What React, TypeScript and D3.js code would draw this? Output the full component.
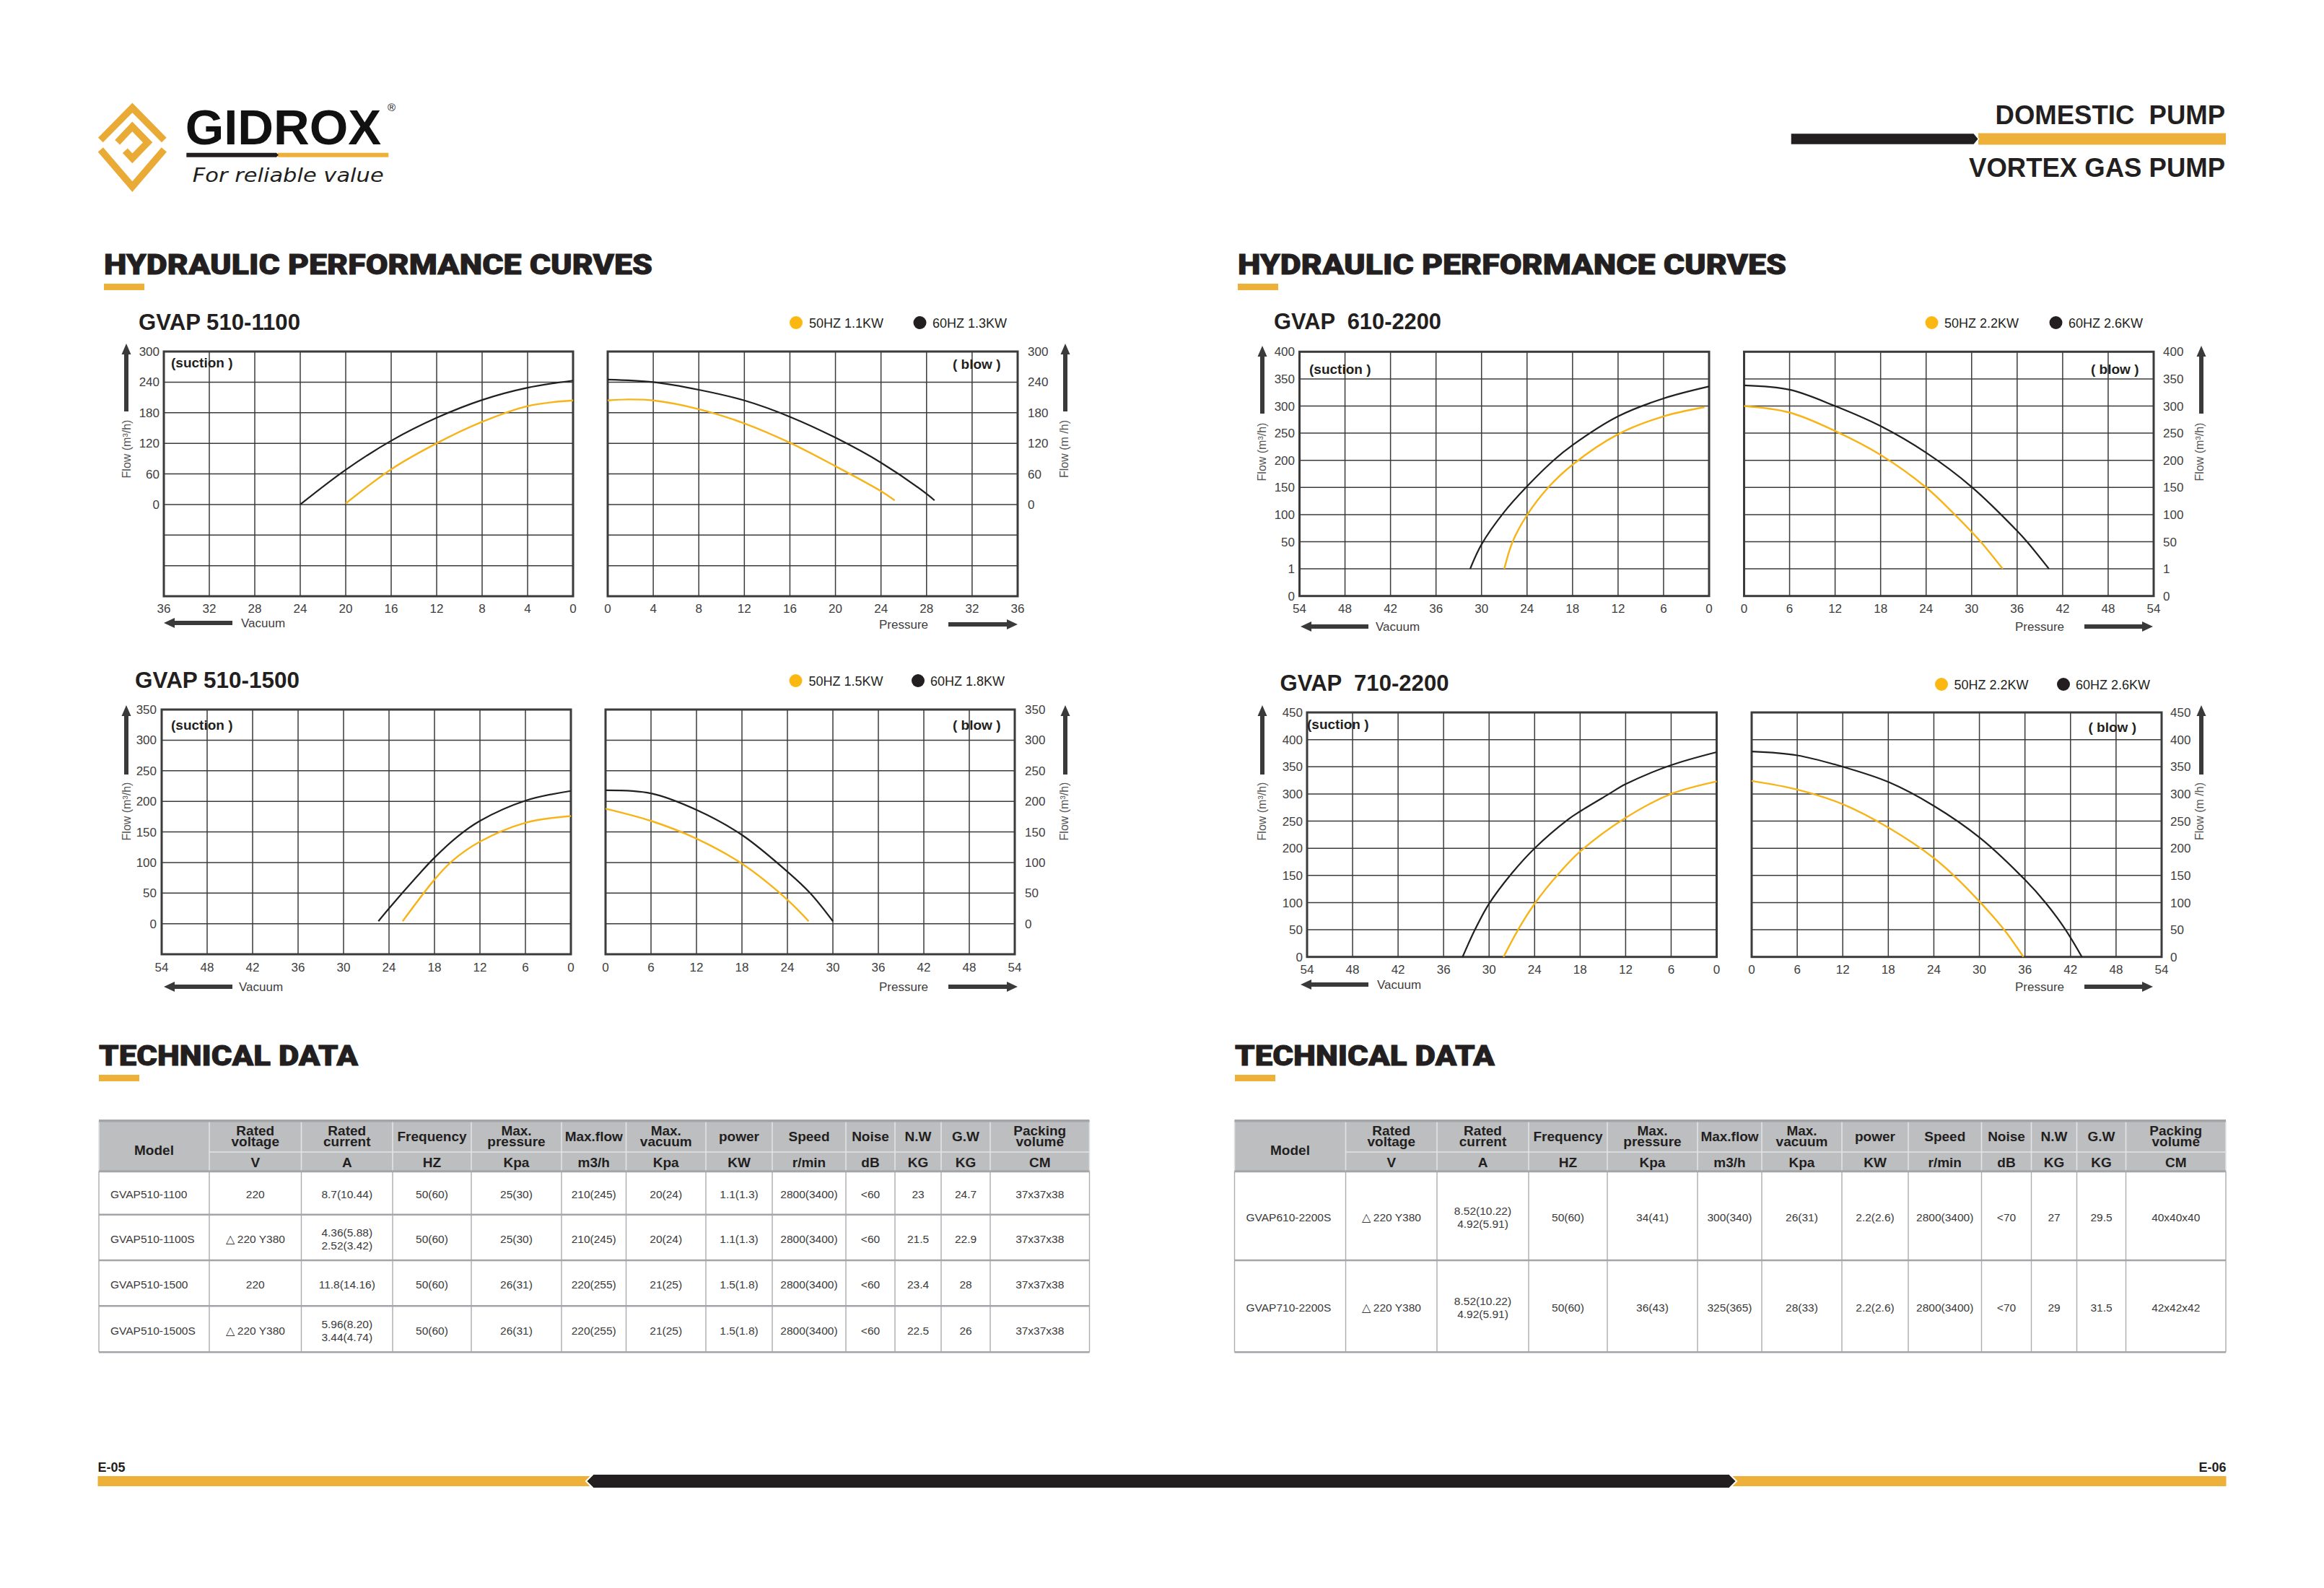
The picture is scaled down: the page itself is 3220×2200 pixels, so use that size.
import React from "react";
import * as d3 from "d3";

// ---------------- DATA ----------------
type Pt = [number, number];

const xTicks36 = [0, 4, 8, 12, 16, 20, 24, 28, 32, 36];
const xTicks54 = [0, 6, 12, 18, 24, 30, 36, 42, 48, 54];

const yVals1100 = [300, 240, 180, 120, 60, 0];
const yText1100 = ["300", "240", "180", "120", "60", "0"];
const yVals1500 = [350, 300, 250, 200, 150, 100, 50, 0];
const yText1500 = ["350", "300", "250", "200", "150", "100", "50", "0"];
const yVals610 = [400, 350, 300, 250, 200, 150, 100, 50, 0, -50];
const yText610 = ["400", "350", "300", "250", "200", "150", "100", "50", "1", "0"];
const yVals710 = [450, 400, 350, 300, 250, 200, 150, 100, 50, 0];
const yText710 = ["450", "400", "350", "300", "250", "200", "150", "100", "50", "0"];

// [vacuum or pressure (kPa), flow (m3/h)]
const s1100_50_suction: Pt[] = [[20, 2], [16, 69], [12, 120], [8, 162], [4, 193], [0, 204]];
const s1100_60_suction: Pt[] = [[24, 0], [20, 68], [16, 125], [12, 170], [8, 205], [4, 229], [0, 243]];
const s1100_50_blow: Pt[] = [[0, 204], [1.8, 206], [4, 204], [8, 187], [12, 159], [16, 121], [20, 75], [24, 26], [25.2, 8]];
const s1100_60_blow: Pt[] = [[0, 245], [4, 240], [8, 225], [12, 204], [16, 172], [20, 131], [24, 82], [28, 21], [28.7, 8]];

const s1500_50_suction: Pt[] = [[22.2, 4], [18, 72], [15.7, 102], [12, 134], [6, 165], [0, 176]];
const s1500_60_suction: Pt[] = [[25.4, 4], [24, 25], [20.4, 76], [18, 108], [15, 142], [12, 168], [6, 201], [0, 217]];
const s1500_50_blow: Pt[] = [[0, 188], [6, 168], [12, 139], [18, 98], [24, 39], [26.8, 4]];
const s1500_60_blow: Pt[] = [[0, 218], [6, 213], [12, 186], [18, 145], [24, 85], [27, 50], [30, 4]];

const s610_50_suction: Pt[] = [[27, 0], [25.9, 50], [24, 99], [21.2, 150], [18, 192], [12, 248], [6, 281], [0.6, 298]];
const s610_60_suction: Pt[] = [[31.5, 0], [30, 45], [27, 105], [24, 152], [20.5, 200], [18, 228], [12, 281], [6, 314], [0, 336]];
const s610_50_blow: Pt[] = [[0, 300], [6, 288], [12, 254], [18, 210], [24, 150], [27.7, 101], [30, 68], [31.2, 50], [34.1, 0]];
const s610_60_blow: Pt[] = [[0, 338], [6, 330], [12, 300], [18, 263], [24, 214], [30, 151], [36, 70], [37.3, 50], [40.2, 0]];

const s710_50_suction: Pt[] = [[28.1, 0], [26.1, 52], [24, 98], [20.9, 152], [18, 194], [12, 256], [6, 300], [0, 323]];
const s710_60_suction: Pt[] = [[33.5, 0], [31.8, 52], [30, 98], [27, 154], [24, 200], [19.6, 253], [18, 268], [14.3, 299], [12, 318], [6, 353], [0, 377]];
const s710_50_blow: Pt[] = [[0, 324], [6, 308], [12, 281], [18, 238], [24, 182], [26.7, 149], [30, 102], [33.2, 51], [35.8, 0]];
const s710_60_blow: Pt[] = [[0, 378], [6, 371], [12, 350], [18, 322], [24, 278], [30, 220], [36, 142], [38.7, 100], [41.3, 51], [43.5, 0]];

const legend1100 = ["50HZ  1.1KW", "60HZ  1.3KW"];
const legend1500 = ["50HZ  1.5KW", "60HZ 1.8KW"];
const legend610 = ["50HZ  2.2KW", "60HZ  2.6KW"];
const legend710 = ["50HZ  2.2KW", "60HZ  2.6KW"];

const headerTop = ["Model", "Rated\nvoltage", "Rated\ncurrent", "Frequency", "Max.\npressure", "Max.flow", "Max.\nvacuum", "power", "Speed", "Noise", "N.W", "G.W", "Packing\nvolume"];
const headerUnits = ["", "V", "A", "HZ", "Kpa", "m3/h", "Kpa", "KW", "r/min", "dB", "KG", "KG", "CM"];

const rowsLeft = [
  ["GVAP510-1100", "220", "8.7(10.44)", "50(60)", "25(30)", "210(245)", "20(24)", "1.1(1.3)", "2800(3400)", "<60", "23", "24.7", "37x37x38"],
  ["GVAP510-1100S", "△ 220 Y380", "4.36(5.88)\n2.52(3.42)", "50(60)", "25(30)", "210(245)", "20(24)", "1.1(1.3)", "2800(3400)", "<60", "21.5", "22.9", "37x37x38"],
  ["GVAP510-1500", "220", "11.8(14.16)", "50(60)", "26(31)", "220(255)", "21(25)", "1.5(1.8)", "2800(3400)", "<60", "23.4", "28", "37x37x38"],
  ["GVAP510-1500S", "△ 220 Y380", "5.96(8.20)\n3.44(4.74)", "50(60)", "26(31)", "220(255)", "21(25)", "1.5(1.8)", "2800(3400)", "<60", "22.5", "26", "37x37x38"],
];
const rowsRight = [
  ["GVAP610-2200S", "△ 220 Y380", "8.52(10.22)\n4.92(5.91)", "50(60)", "34(41)", "300(340)", "26(31)", "2.2(2.6)", "2800(3400)", "<70", "27", "29.5", "40x40x40"],
  ["GVAP710-2200S", "△ 220 Y380", "8.52(10.22)\n4.92(5.91)", "50(60)", "36(43)", "325(365)", "28(33)", "2.2(2.6)", "2800(3400)", "<70", "29", "31.5", "42x42x42"],
];

// ---------------- STYLE / LAYOUT ----------------
const FONT = "'Liberation Sans', Arial, Helvetica, sans-serif";
const HEAVY = "Roboto, 'Liberation Sans', Arial, sans-serif";
const ORANGE = "#f7b418";
const ORANGE_BAR = "#edb13a";
const DARK = "#231f20";
const GRID = "#3b3b3b";
const TXT = "#404040";

type PanelCfg = {
  side: "suction" | "blow";
  L: number; R: number; T: number; B: number;
  xTicks: number[];
  yMin: number; yMax: number; yStep: number;
  yVals: number[]; yText: string[];
  s50: Pt[]; s60: Pt[];
  title?: string; titleX?: number; titleY?: number; titleW?: number;
  legend?: string[]; legY?: number; legO?: number; legOT?: number; legB?: number; legBT?: number;
  noteX: number; noteY: number;
  yLabX: number;
  flowX: number; flowY: number; flowText: string;
  arrowX: number; arrowTop: number; arrowBot: number;
  xLabY: number;
  axName: string; axNameX: number; axNameY: number; axA: number; axB: number;
};

const panels: PanelCfg[] = [
  {
    side: "suction", L: 227, R: 794, T: 487, B: 826, xTicks: xTicks36,
    yMin: -180, yMax: 300, yStep: 60, yVals: yVals1100, yText: yText1100,
    s50: s1100_50_suction, s60: s1100_60_suction,
    title: "GVAP 510-1100", titleX: 192, titleY: 457, titleW: 224,
    noteX: 237, noteY: 509, yLabX: 221,
    flowX: 175, flowY: 622, flowText: "Flow (m³/h)", arrowX: 175, arrowTop: 476, arrowBot: 570,
    xLabY: 849, axName: "Vacuum", axNameX: 334, axNameY: 869, axA: 227, axB: 322,
  },
  {
    side: "blow", L: 842, R: 1410, T: 487, B: 826, xTicks: xTicks36,
    yMin: -180, yMax: 300, yStep: 60, yVals: yVals1100, yText: yText1100,
    s50: s1100_50_blow, s60: s1100_60_blow,
    legend: legend1100, legY: 447, legO: 1103, legOT: 1121, legB: 1274.5, legBT: 1292,
    noteX: 1320, noteY: 511, yLabX: 1424,
    flowX: 1474, flowY: 622, flowText: "Flow (m /h)", arrowX: 1476, arrowTop: 476, arrowBot: 570,
    xLabY: 849, axName: "Pressure", axNameX: 1218, axNameY: 871, axA: 1314, axB: 1410,
  },
  {
    side: "suction", L: 224, R: 791, T: 983, B: 1322, xTicks: xTicks54,
    yMin: -50, yMax: 350, yStep: 50, yVals: yVals1500, yText: yText1500,
    s50: s1500_50_suction, s60: s1500_60_suction,
    title: "GVAP 510-1500", titleX: 187, titleY: 953, titleW: 228,
    noteX: 237, noteY: 1011, yLabX: 217,
    flowX: 175, flowY: 1124, flowText: "Flow (m³/h)", arrowX: 175, arrowTop: 977, arrowBot: 1073,
    xLabY: 1346, axName: "Vacuum", axNameX: 331, axNameY: 1373, axA: 227, axB: 322,
  },
  {
    side: "blow", L: 839, R: 1406, T: 983, B: 1322, xTicks: xTicks54,
    yMin: -50, yMax: 350, yStep: 50, yVals: yVals1500, yText: yText1500,
    s50: s1500_50_blow, s60: s1500_60_blow,
    legend: legend1500, legY: 943, legO: 1102.5, legOT: 1120.5, legB: 1272, legBT: 1289,
    noteX: 1320, noteY: 1011, yLabX: 1420,
    flowX: 1474, flowY: 1124, flowText: "Flow (m³/h)", arrowX: 1476, arrowTop: 977, arrowBot: 1073,
    xLabY: 1346, axName: "Pressure", axNameX: 1218, axNameY: 1373, axA: 1314, axB: 1410,
  },
  {
    side: "suction", L: 1800.5, R: 2368, T: 487.3, B: 825.7, xTicks: xTicks54,
    yMin: -50, yMax: 400, yStep: 50, yVals: yVals610, yText: yText610,
    s50: s610_50_suction, s60: s610_60_suction,
    title: "GVAP  610-2200", titleX: 1765, titleY: 456, titleW: 232,
    noteX: 1814, noteY: 518, yLabX: 1794,
    flowX: 1748, flowY: 626, flowText: "Flow (m³/h)", arrowX: 1749, arrowTop: 479, arrowBot: 573,
    xLabY: 849, axName: "Vacuum", axNameX: 1906, axNameY: 874, axA: 1802, axB: 1896,
  },
  {
    side: "blow", L: 2416.5, R: 2984, T: 487.3, B: 825.7, xTicks: xTicks54,
    yMin: -50, yMax: 400, yStep: 50, yVals: yVals610, yText: yText610,
    s50: s610_50_blow, s60: s610_60_blow,
    legend: legend610, legY: 447, legO: 2676.5, legOT: 2694, legB: 2848.5, legBT: 2866,
    noteX: 2897, noteY: 518, yLabX: 2997,
    flowX: 3047, flowY: 626, flowText: "Flow (m³/h)", arrowX: 3050, arrowTop: 479, arrowBot: 573,
    xLabY: 849, axName: "Pressure", axNameX: 2792, axNameY: 874, axA: 2888, axB: 2983,
  },
  {
    side: "suction", L: 1811, R: 2378.5, T: 987, B: 1325.7, xTicks: xTicks54,
    yMin: 0, yMax: 450, yStep: 50, yVals: yVals710, yText: yText710,
    s50: s710_50_suction, s60: s710_60_suction,
    title: "GVAP  710-2200", titleX: 1773.5, titleY: 957, titleW: 234,
    noteX: 1811, noteY: 1010, yLabX: 1805,
    flowX: 1748, flowY: 1124, flowText: "Flow (m³/h)", arrowX: 1749, arrowTop: 977, arrowBot: 1073,
    xLabY: 1349, axName: "Vacuum", axNameX: 1908, axNameY: 1370, axA: 1802, axB: 1896,
  },
  {
    side: "blow", L: 2427, R: 2995, T: 987, B: 1325.7, xTicks: xTicks54,
    yMin: 0, yMax: 450, yStep: 50, yVals: yVals710, yText: yText710,
    s50: s710_50_blow, s60: s710_60_blow,
    legend: legend710, legY: 948, legO: 2690, legOT: 2707.5, legB: 2859, legBT: 2876,
    noteX: 2893.5, noteY: 1014, yLabX: 3007,
    flowX: 3047, flowY: 1124, flowText: "Flow (m /h)", arrowX: 3050, arrowTop: 977, arrowBot: 1073,
    xLabY: 1349, axName: "Pressure", axNameX: 2792, axNameY: 1373, axA: 2888, axB: 2983,
  },
];

const leftCols = [137, 290, 417.5, 544, 653, 778, 867.5, 978, 1070, 1172, 1240, 1304, 1372, 1509.5];
const rightCols = [1710.5, 1864.5, 1991, 2118, 2227, 2352, 2441, 2552, 2644, 2745.5, 2814.5, 2877.5, 2945.5, 3084];
const leftRowLines = [1622.7, 1682.7, 1746, 1809.3, 1873.3];
const rightRowLines = [1622.7, 1746, 1873.3];

// ---------------- HELPERS ----------------
function hArrow(tip: number, tail: number, yc: number) {
  const dir = tail > tip ? 1 : -1;
  const hl = 15 * dir;
  const pts = [
    [tip, yc], [tip + hl, yc - 7], [tip + hl, yc - 3], [tail, yc - 3],
    [tail, yc + 3], [tip + hl, yc + 3], [tip + hl, yc + 7],
  ];
  return pts.map((p) => p.join(",")).join(" ");
}
function vArrow(xc: number, top: number, bot: number) {
  const pts = [
    [xc, top], [xc + 6.5, top + 15], [xc + 3, top + 15], [xc + 3, bot],
    [xc - 3, bot], [xc - 3, top + 15], [xc - 6.5, top + 15],
  ];
  return pts.map((p) => p.join(",")).join(" ");
}

function Panel({ c }: { c: PanelCfg }) {
  const xMax = c.xTicks[c.xTicks.length - 1];
  const x = d3.scaleLinear().domain(c.side === "suction" ? [xMax, 0] : [0, xMax]).range([c.L, c.R]);
  const y = d3.scaleLinear().domain([c.yMin, c.yMax]).range([c.B, c.T]);
  const yGrid = d3.range(c.yMin, c.yMax + 0.001, c.yStep);
  const line = d3
    .line<Pt>()
    .x((d) => x(d[0]))
    .y((d) => y(d[1]))
    .curve(d3.curveCatmullRom.alpha(0.5));
  const suction = c.side === "suction";
  return (
    <g>
      {c.title && (
        <text x={c.titleX} y={c.titleY} fontFamily={FONT} fontWeight={700} fontSize={31} fill={DARK}
          textLength={c.titleW} lengthAdjust="spacingAndGlyphs" style={{ whiteSpace: "pre" }}>
          {c.title}
        </text>
      )}
      {c.legend && (
        <g fontFamily={FONT} fontSize={18} fill={DARK} style={{ whiteSpace: "pre" }}>
          <circle cx={c.legO} cy={c.legY} r={9} fill="#fcb812" />
          <text x={c.legOT} y={c.legY + 6.5}>{c.legend[0]}</text>
          <circle cx={c.legB} cy={c.legY} r={9} fill={DARK} />
          <text x={c.legBT} y={c.legY + 6.5}>{c.legend[1]}</text>
        </g>
      )}
      {yGrid.map((v) => (
        <line key={"y" + v} x1={c.L} x2={c.R} y1={y(v)} y2={y(v)} stroke={GRID} strokeWidth={1.5} />
      ))}
      {c.xTicks.map((v) => (
        <line key={"x" + v} x1={x(v)} x2={x(v)} y1={c.T} y2={c.B} stroke={GRID} strokeWidth={1.5} />
      ))}
      <rect x={c.L} y={c.T} width={c.R - c.L} height={c.B - c.T} fill="none" stroke={GRID} strokeWidth={3} />
      <path d={line(c.s60) || ""} fill="none" stroke={DARK} strokeWidth={2.2} />
      <path d={line(c.s50) || ""} fill="none" stroke={ORANGE} strokeWidth={2.4} />
      <text x={c.noteX} y={c.noteY} fontFamily={FONT} fontWeight={700} fontSize={19} fill={DARK} style={{ whiteSpace: "pre" }}>
        {suction ? "(suction )" : "( blow )"}
      </text>
      {c.yVals.map((v, i) => (
        <text key={"yl" + v} x={c.yLabX} y={y(v)} dy="0.36em" textAnchor={suction ? "end" : "start"}
          fontFamily={FONT} fontSize={17} fill={TXT}>
          {c.yText[i]}
        </text>
      ))}
      {c.xTicks.map((v) => (
        <text key={"xl" + v} x={x(v)} y={c.xLabY} textAnchor="middle" fontFamily={FONT} fontSize={17} fill={TXT}>
          {v}
        </text>
      ))}
      <text transform={`translate(${c.flowX},${c.flowY}) rotate(-90)`} textAnchor="middle" dy="0.36em"
        fontFamily={FONT} fontSize={16} fill="#555" style={{ whiteSpace: "pre" }}>
        {c.flowText}
      </text>
      <polygon points={vArrow(c.arrowX, c.arrowTop, c.arrowBot)} fill="#3a3a3a" />
      <text x={c.axNameX} y={c.axNameY} fontFamily={FONT} fontSize={17} fill={TXT}>{c.axName}</text>
      <polygon points={suction ? hArrow(c.axA, c.axB, c.axNameY - 6) : hArrow(c.axB, c.axA, c.axNameY - 6)} fill="#3a3a3a" />
    </g>
  );
}

function DataTable({ cols, rowLines, rows }: { cols: number[]; rowLines: number[]; rows: string[][] }) {
  const top = 1552.7, mid = 1596, hBot = 1622.7;
  const L = cols[0], R = cols[cols.length - 1];
  const centers = cols.slice(0, -1).map((c, i) => (c + cols[i + 1]) / 2);
  return (
    <g fontFamily={FONT}>
      <rect x={L} y={top} width={R - L} height={hBot - top} fill="#bcbec0" />
      {cols.map((cx, i) => (
        <line key={"hv" + i} x1={cx} x2={cx} y1={top} y2={hBot} stroke="#e2e3e4" strokeWidth={1.6} />
      ))}
      <line x1={cols[1]} x2={R} y1={mid} y2={mid} stroke="#e2e3e4" strokeWidth={1.6} />
      <line x1={L} x2={R} y1={top} y2={top} stroke="#a3a5a8" strokeWidth={3.5} />
      <line x1={L} x2={R} y1={hBot} y2={hBot} stroke="#a3a5a8" strokeWidth={3} />
      {cols.map((cx, i) => (
        <line key={"bv" + i} x1={cx} x2={cx} y1={hBot} y2={rowLines[rowLines.length - 1]} stroke="#a9abae" strokeWidth={1.4} />
      ))}
      {rowLines.slice(1).map((ry, i) => (
        <line key={"rl" + i} x1={L} x2={R} y1={ry} y2={ry} stroke="#a3a5a8" strokeWidth={2.6} />
      ))}
      {headerTop.map((h, i) => {
        const parts = h.split("\n");
        if (i === 0)
          return (
            <text key={"h" + i} x={centers[0]} y={1600} textAnchor="middle" fontWeight={700} fontSize={19} fill={DARK}>{h}</text>
          );
        if (parts.length === 2)
          return (
            <g key={"h" + i}>
              <text x={centers[i]} y={1573} textAnchor="middle" fontWeight={700} fontSize={19} fill={DARK}>{parts[0]}</text>
              <text x={centers[i]} y={1588} textAnchor="middle" fontWeight={700} fontSize={19} fill={DARK}>{parts[1]}</text>
            </g>
          );
        return (
          <text key={"h" + i} x={centers[i]} y={1581} textAnchor="middle" fontWeight={700} fontSize={19} fill={DARK}>{h}</text>
        );
      })}
      {headerUnits.map((u, i) =>
        i === 0 ? null : (
          <text key={"u" + i} x={centers[i]} y={1617} textAnchor="middle" fontWeight={700} fontSize={19} fill={DARK}>{u}</text>
        )
      )}
      {rows.map((r, ri) => {
        const cy = (rowLines[ri] + rowLines[ri + 1]) / 2 + 2;
        return r.map((cell, ci) => {
          const parts = cell.split("\n");
          const xx = ci === 0 ? cols[0] + 16 : centers[ci];
          const anchor = ci === 0 ? "start" : "middle";
          if (parts.length === 2)
            return (
              <g key={ri + "-" + ci}>
                <text x={xx} y={cy - 9} dy="0.35em" textAnchor={anchor} fontSize={15.5} fill="#3a3a3a">{parts[0]}</text>
                <text x={xx} y={cy + 9} dy="0.35em" textAnchor={anchor} fontSize={15.5} fill="#3a3a3a">{parts[1]}</text>
              </g>
            );
          return (
            <text key={ri + "-" + ci} x={xx} y={cy} dy="0.35em" textAnchor={anchor} fontSize={15.5} fill="#3a3a3a">{cell}</text>
          );
        });
      })}
    </g>
  );
}

function Logo() {
  const P = (pts: number[][]) => pts.map((p) => `${120 + p[0] / 3},${120 + p[1] / 3}`).join(" ");
  return (
    <g>
      <g fill="none" stroke="#e9ab35" strokeWidth={9.5} strokeLinejoin="miter">
        <polyline points={P([[58, 222], [190, 88], [322, 222]])} />
        <polyline points={P([[58, 262], [190, 416], [322, 262]])} />
        <polyline points={P([[128, 232], [190, 166], [254, 232], [190, 298], [160, 266]])} />
      </g>
      <text x={256.7} y={200} fontFamily={FONT} fontWeight={700} fontSize={68} fill="#111"
        textLength={271.6} lengthAdjust="spacingAndGlyphs">GIDROX</text>
      <text x={537} y={154} fontFamily={FONT} fontSize={15} fill="#111">®</text>
      <rect x={385} y={211.7} width={153.3} height={6} fill={ORANGE_BAR} />
      <polygon points="258.3,211.7 383,211.7 386,214.7 383,217.7 258.3,217.7" fill={DARK} />
      <text x={266.7} y={252} fontFamily="'DejaVu Sans', sans-serif" fontStyle="italic" fontWeight={300}
        fontSize={27} fill={DARK} textLength={265} lengthAdjust="spacingAndGlyphs">For reliable value</text>
    </g>
  );
}

function Heading({ x, y, text, w }: { x: number; y: number; text: string; w: number }) {
  return (
    <g>
      <text x={x} y={y} fontFamily={HEAVY} fontWeight={900} fontSize={38} fill={DARK}
        stroke={DARK} strokeWidth={0.9} textLength={w} lengthAdjust="spacingAndGlyphs">{text}</text>
      <rect x={x} y={y + 13} width={56} height={9} fill={ORANGE_BAR} />
    </g>
  );
}

export default function App() {
  return (
    <svg width={3220} height={2200} style={{ position: "absolute", left: 0, top: 0, display: "block" }}
      xmlns="http://www.w3.org/2000/svg">
      <rect x={0} y={0} width={3220} height={2200} fill="#ffffff" />
      <Logo />
      {/* header right */}
      <text x={3083} y={172} textAnchor="end" fontFamily={FONT} fontWeight={700} fontSize={36.5} fill={DARK}
        style={{ whiteSpace: "pre" }}>DOMESTIC  PUMP</text>
      <rect x={2741} y={184.5} width={343} height={16} fill={ORANGE_BAR} />
      <polygon points="2481,184.5 2735,184.5 2741.5,192.5 2735,200.5 2481,200.5" fill={DARK} stroke="#fff" strokeWidth={1.5} />
      <text x={3083} y={245} textAnchor="end" fontFamily={FONT} fontWeight={700} fontSize={36.5} fill={DARK}>VORTEX GAS PUMP</text>

      <Heading x={144} y={380} text="HYDRAULIC PERFORMANCE CURVES" w={760} />
      <Heading x={1715} y={380} text="HYDRAULIC PERFORMANCE CURVES" w={760} />

      {panels.map((p, i) => (
        <Panel key={i} c={p} />
      ))}

      <Heading x={137} y={1476} text="TECHNICAL DATA" w={359} />
      <Heading x={1711} y={1476} text="TECHNICAL DATA" w={360} />

      <DataTable cols={leftCols} rowLines={leftRowLines} rows={rowsLeft} />
      <DataTable cols={rightCols} rowLines={rightRowLines} rows={rowsRight} />

      {/* footer */}
      <text x={135.5} y={2039} fontFamily={FONT} fontWeight={700} fontSize={18} fill={DARK}>E-05</text>
      <text x={3084.5} y={2039} textAnchor="end" fontFamily={FONT} fontWeight={700} fontSize={18} fill={DARK}>E-06</text>
      <rect x={135.5} y={2045} width={2949} height={14} fill={ORANGE_BAR} />
      <polygon points="812,2052 822,2042 2396,2042 2406,2052 2396,2062 822,2062" fill={DARK} stroke="#fff" strokeWidth={2} />
    </svg>
  );
}
